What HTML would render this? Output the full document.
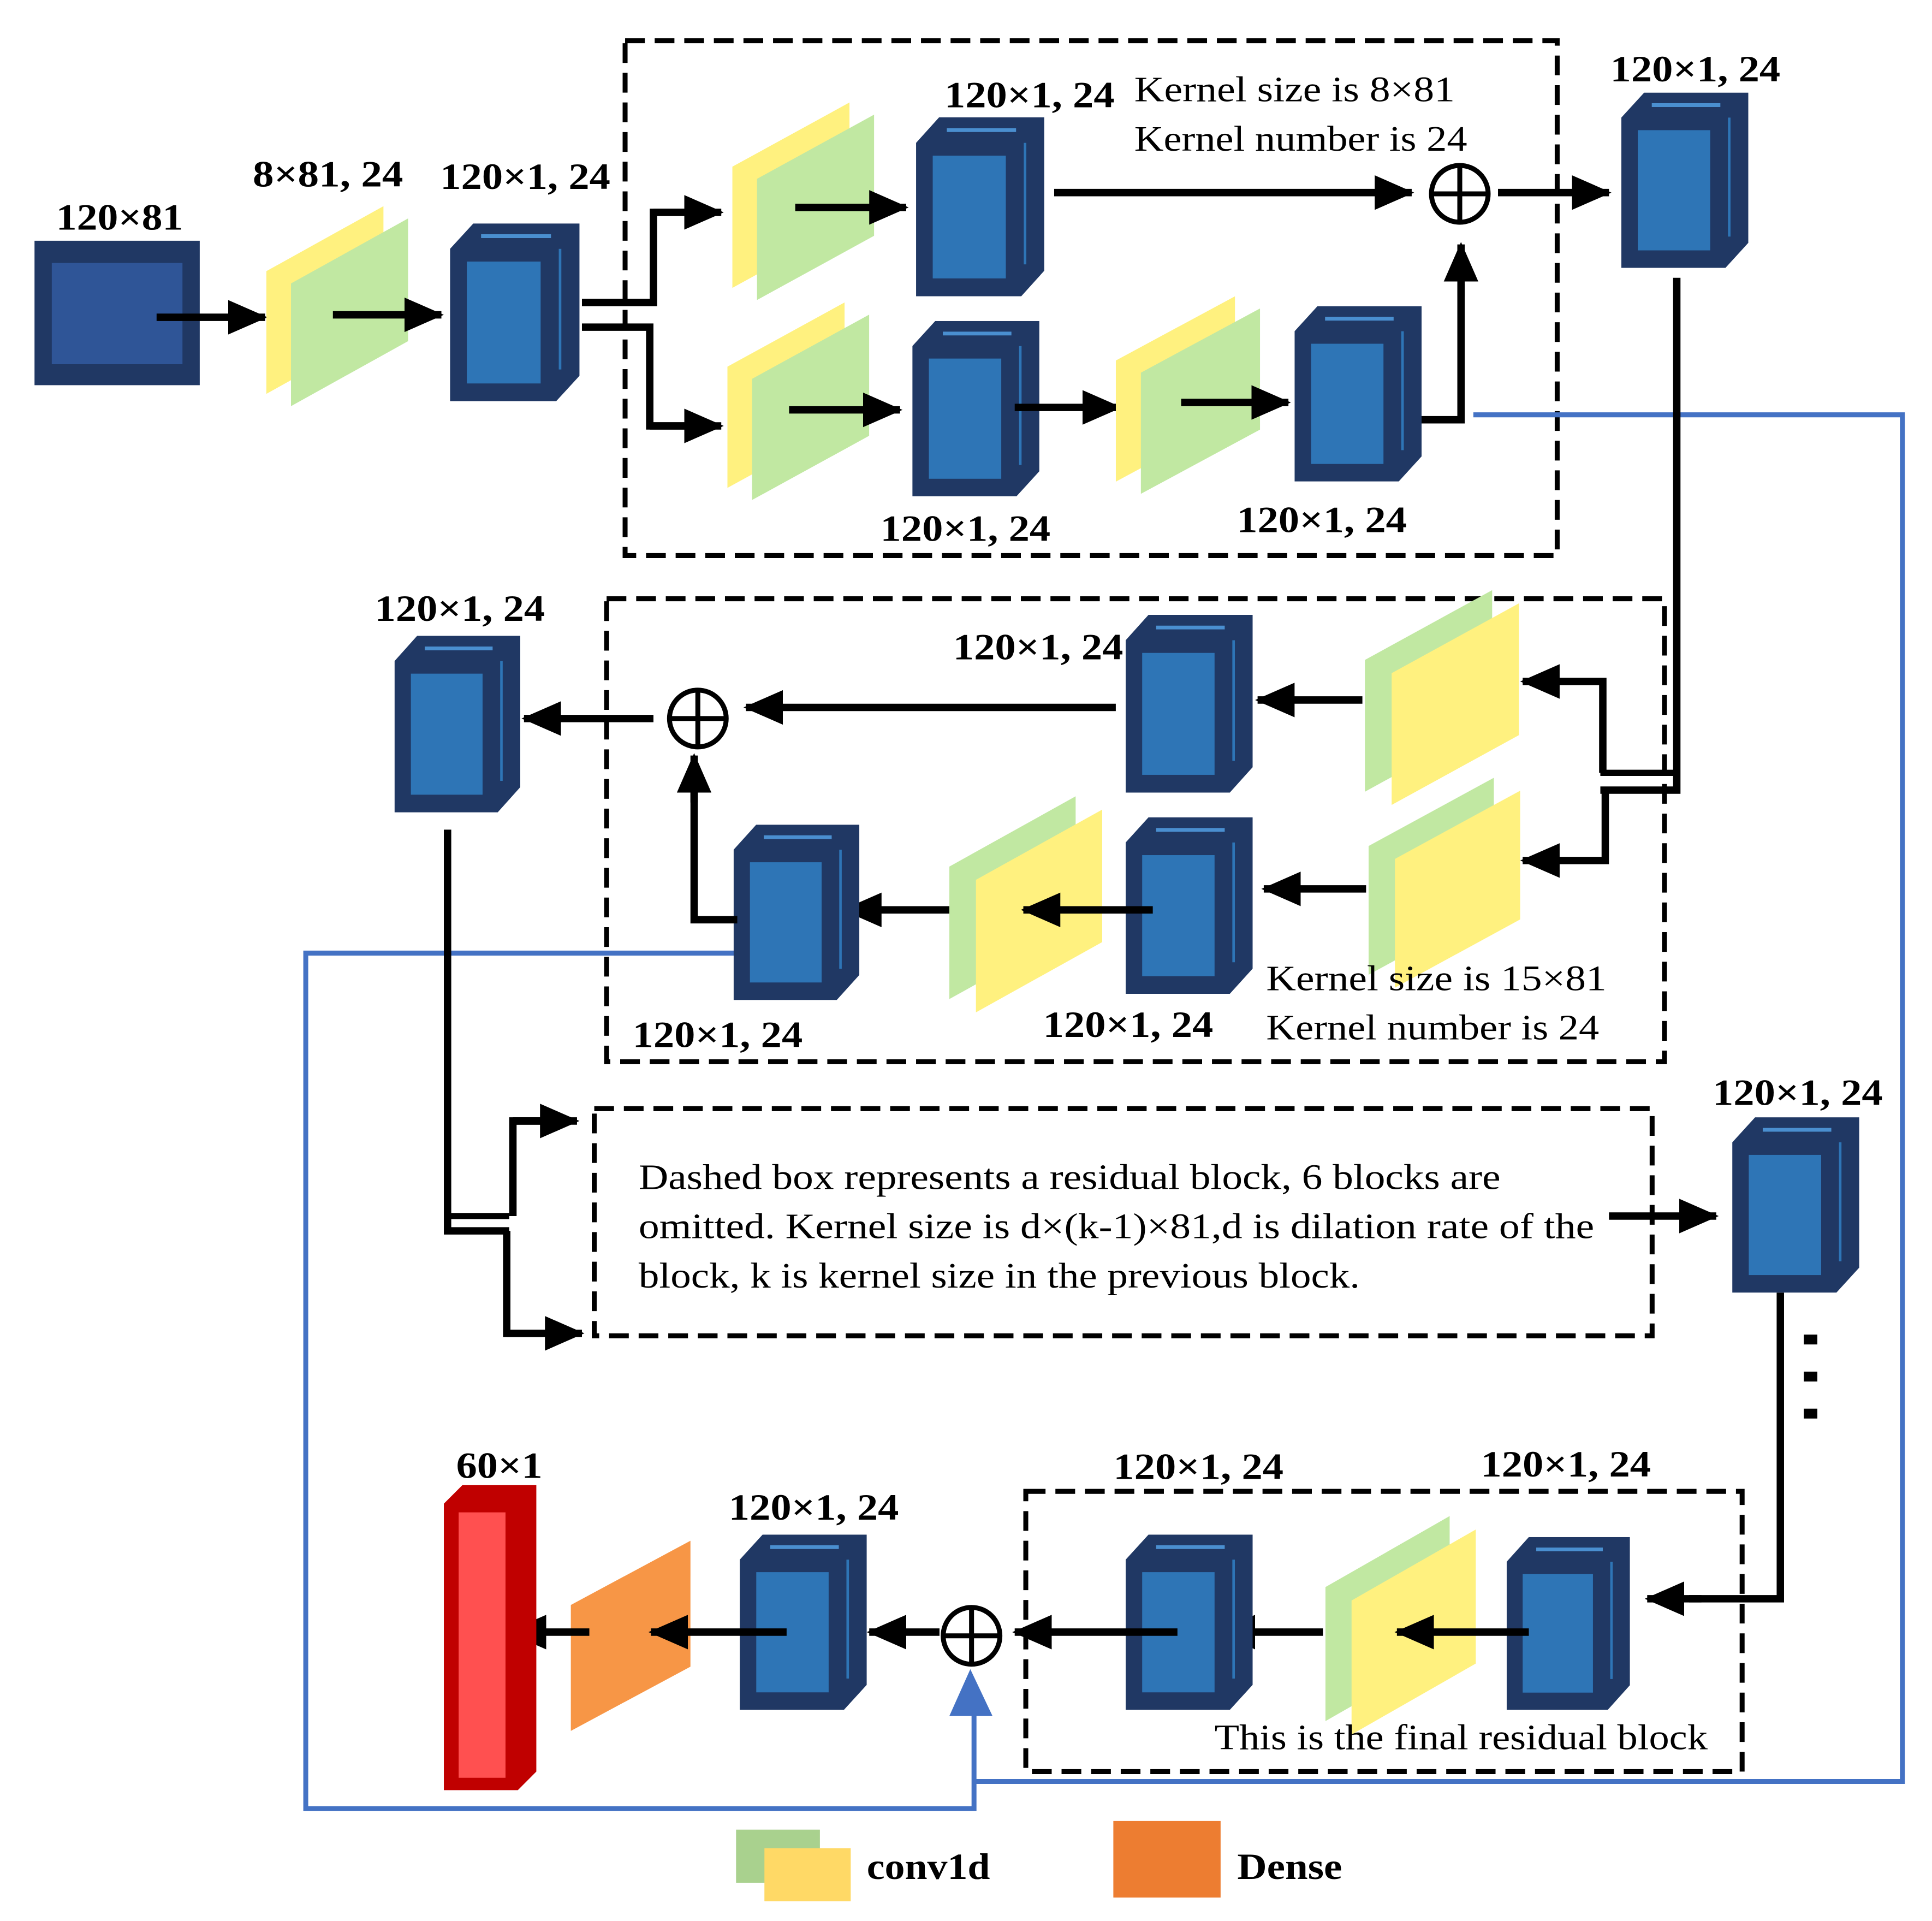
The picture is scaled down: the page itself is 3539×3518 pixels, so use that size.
<!DOCTYPE html>
<html><head><meta charset="utf-8"><style>
html,body{margin:0;padding:0;background:#fff}
svg{display:block}
.l{font-family:"Liberation Serif",serif;font-weight:bold;font-size:30px;fill:#000;text-anchor:middle}
.t{font-family:"Liberation Serif",serif;font-size:29px;fill:#000}
.a{stroke:#000;stroke-width:6;fill:none;marker-end:url(#ah)}
.k{stroke:#000;stroke-width:6;fill:none}
.d{stroke:#000;stroke-width:4;fill:none;stroke-dasharray:16 8}
.b{stroke:#4472c4;stroke-width:4;fill:none}
</style></head><body>
<svg width="3539" height="3518" viewBox="0 0 1567 1556" preserveAspectRatio="none" xmlns="http://www.w3.org/2000/svg">
<defs>
<marker id="ah" markerUnits="userSpaceOnUse" markerWidth="32" markerHeight="28" refX="30" refY="14" orient="auto">
<path d="M0,0 L32,14 L0,28 Z" fill="#000"/>
</marker>
<symbol id="cube" viewBox="0 0 100 140" preserveAspectRatio="none">
<polygon points="18,0 100,0 100,120 82,140 0,140 0,20" fill="#203864"/>
<rect x="13" y="30" width="57" height="96" fill="#2e75b6"/>
<line x1="24" y1="10" x2="78" y2="10" stroke="#4a8fd0" stroke-width="3"/>
<line x1="85" y1="20" x2="85" y2="115" stroke="#2e75b6" stroke-width="2"/>
</symbol>
<symbol id="pa" viewBox="0 0 115 163" preserveAspectRatio="none">
<polygon points="0,53 95,0 95,100 0,153" fill="#fff17f"/>
<polygon points="20,63 115,10 115,110 20,163" fill="#c1e8a2"/>
</symbol>
<symbol id="pb" viewBox="0 0 115 163" preserveAspectRatio="none">
<polygon points="0,53 95,0 95,100 0,153" fill="#c1e8a2"/>
<polygon points="20,63 115,10 115,110 20,163" fill="#fff17f"/>
</symbol>
</defs>

<rect class="d" x="507" y="33" width="756" height="417"/>
<rect class="d" x="492" y="485" width="858" height="375"/>
<rect class="d" x="482" y="898" width="858" height="184"/>
<rect class="d" x="832" y="1208" width="581" height="227"/>

<polyline class="b" points="1195,336 1543,336 1543,1443 790,1443"/>
<polyline class="b" points="598,772 248,772 248,1465 790,1465 790,1378"/>
<polygon points="770,1390 787,1352 805,1390" fill="#4472c4"/>

<text class="l" x="97" y="186" textLength="103" lengthAdjust="spacingAndGlyphs">120×81</text>
<rect x="28" y="195" width="134" height="117" fill="#203864"/>
<rect x="42" y="213" width="106" height="82" fill="#2f5597"/>
<line class="a" x1="127" y1="257" x2="215" y2="257"/>
<use href="#pa" x="216" y="167" width="115" height="162"/>
<text class="l" x="266" y="151" textLength="122" lengthAdjust="spacingAndGlyphs">8×81, 24</text>
<line class="a" x1="270" y1="255" x2="358" y2="255"/>
<use href="#cube" x="365" y="181" width="105" height="144"/>
<text class="l" x="426" y="153" textLength="138" lengthAdjust="spacingAndGlyphs">120×1, 24</text>
<polyline class="k" points="472,245 530,245 530,172 555,172"/>
<line class="a" x1="530" y1="172" x2="585" y2="172"/>
<polyline class="k" points="472,265 527,265 527,345 555,345"/>
<line class="a" x1="527" y1="345" x2="585" y2="345"/>

<use href="#pa" x="594" y="83" width="115" height="160"/>
<line class="a" x1="645" y1="168" x2="735" y2="168"/>
<use href="#cube" x="743" y="95" width="104" height="145"/>
<text class="l" x="835" y="87" textLength="138" lengthAdjust="spacingAndGlyphs">120×1, 24</text>
<line class="a" x1="855" y1="156" x2="1145" y2="156"/>
<text class="t" x="920" y="82" textLength="260" lengthAdjust="spacingAndGlyphs">Kernel size is 8×81</text>
<text class="t" x="920" y="122" textLength="270" lengthAdjust="spacingAndGlyphs">Kernel number is 24</text>
<circle cx="1184" cy="157" r="23" fill="#fff" stroke="#000" stroke-width="4"/>
<line x1="1161" y1="157" x2="1207" y2="157" stroke="#000" stroke-width="4"/>
<line x1="1184" y1="134" x2="1184" y2="180" stroke="#000" stroke-width="4"/>
<line class="a" x1="1215" y1="156" x2="1305" y2="156"/>
<use href="#cube" x="1315" y="75" width="103" height="142"/>
<text class="l" x="1375" y="66" textLength="138" lengthAdjust="spacingAndGlyphs">120×1, 24</text>

<use href="#pa" x="590" y="245" width="115" height="160"/>
<line class="a" x1="640" y1="332" x2="730" y2="332"/>
<use href="#cube" x="740" y="260" width="103" height="142"/>
<text class="l" x="783" y="438" textLength="138" lengthAdjust="spacingAndGlyphs">120×1, 24</text>
<line class="a" x1="823" y1="330" x2="908" y2="330"/>
<use href="#pa" x="905" y="240" width="117" height="160"/>
<line class="a" x1="958" y1="326" x2="1045" y2="326"/>
<use href="#cube" x="1050" y="248" width="103" height="142"/>
<text class="l" x="1072" y="431" textLength="138" lengthAdjust="spacingAndGlyphs">120×1, 24</text>
<polyline class="k" points="1153,340 1185,340 1185,230"/>
<line class="a" x1="1185" y1="240" x2="1185" y2="198"/>

<polyline class="k" points="1360,225 1360,640 1298,640"/>
<line x1="1360" y1="626" x2="1298" y2="626" stroke="#000" stroke-width="5"/>
<polyline class="k" points="1300,626 1300,552 1260,552"/>
<line class="a" x1="1262" y1="552" x2="1235" y2="552"/>
<polyline class="k" points="1302,638 1302,697 1260,697"/>
<line class="a" x1="1262" y1="697" x2="1235" y2="697"/>

<use href="#pb" x="1107" y="478" width="125" height="174"/>
<line class="a" x1="1105" y1="567" x2="1020" y2="567"/>
<use href="#cube" x="913" y="498" width="103" height="144"/>
<text class="l" x="842" y="534" textLength="138" lengthAdjust="spacingAndGlyphs">120×1, 24</text>
<line class="a" x1="905" y1="573" x2="605" y2="573"/>
<circle cx="566" cy="582" r="23" fill="#fff" stroke="#000" stroke-width="4"/>
<line x1="543" y1="582" x2="589" y2="582" stroke="#000" stroke-width="4"/>
<line x1="566" y1="559" x2="566" y2="605" stroke="#000" stroke-width="4"/>
<line class="a" x1="530" y1="582" x2="425" y2="582"/>
<use href="#cube" x="320" y="515" width="102" height="143"/>
<text class="l" x="373" y="503" textLength="138" lengthAdjust="spacingAndGlyphs">120×1, 24</text>

<use href="#pb" x="1110" y="630" width="123" height="170"/>
<line class="a" x1="1108" y1="720" x2="1025" y2="720"/>
<use href="#cube" x="913" y="662" width="103" height="143"/>
<text class="l" x="915" y="840" textLength="138" lengthAdjust="spacingAndGlyphs">120×1, 24</text>
<use href="#pb" x="770" y="645" width="124" height="175"/>
<line class="a" x1="935" y1="737" x2="830" y2="737"/>
<line class="a" x1="770" y1="737" x2="685" y2="737"/>
<use href="#cube" x="595" y="668" width="102" height="142"/>
<text class="l" x="582" y="848" textLength="138" lengthAdjust="spacingAndGlyphs">120×1, 24</text>
<polyline class="k" points="598,745 563,745 563,640"/>
<line class="a" x1="563" y1="650" x2="563" y2="612"/>
<text class="t" x="1027" y="802" textLength="276" lengthAdjust="spacingAndGlyphs">Kernel size is 15×81</text>
<text class="t" x="1027" y="842" textLength="270" lengthAdjust="spacingAndGlyphs">Kernel number is 24</text>

<polyline class="k" points="363,672 363,997 413,997"/>
<line x1="363" y1="985" x2="413" y2="985" stroke="#000" stroke-width="5"/>
<polyline class="k" points="416,985 416,908 440,908"/>
<line class="a" x1="416" y1="908" x2="468" y2="908"/>
<polyline class="k" points="411,997 411,1080 440,1080"/>
<line class="a" x1="411" y1="1080" x2="472" y2="1080"/>
<text class="t" x="518" y="963" textLength="699" lengthAdjust="spacingAndGlyphs">Dashed box represents a residual block, 6 blocks are</text>
<text class="t" x="518" y="1003" textLength="775" lengthAdjust="spacingAndGlyphs">omitted. Kernel size is d×(k-1)×81,d is dilation rate of the</text>
<text class="t" x="518" y="1043" textLength="585" lengthAdjust="spacingAndGlyphs">block, k is kernel size in the previous block.</text>
<line class="a" x1="1305" y1="985" x2="1392" y2="985"/>
<use href="#cube" x="1405" y="905" width="103" height="142"/>
<text class="l" x="1458" y="895" textLength="138" lengthAdjust="spacingAndGlyphs">120×1, 24</text>
<rect x="1463" y="1081" width="11" height="8" fill="#000"/>
<rect x="1463" y="1111" width="11" height="8" fill="#000"/>
<rect x="1463" y="1141" width="11" height="8" fill="#000"/>
<polyline class="k" points="1444,1047 1444,1295 1370,1295"/>
<line class="a" x1="1380" y1="1295" x2="1336" y2="1295"/>

<use href="#cube" x="1222" y="1245" width="100" height="140"/>
<text class="l" x="1270" y="1196" textLength="138" lengthAdjust="spacingAndGlyphs">120×1, 24</text>
<use href="#pb" x="1075" y="1228" width="122" height="177"/>
<line class="a" x1="1240" y1="1322" x2="1133" y2="1322"/>
<line class="a" x1="1073" y1="1322" x2="988" y2="1322"/>
<use href="#cube" x="913" y="1243" width="103" height="142"/>
<text class="l" x="972" y="1198" textLength="138" lengthAdjust="spacingAndGlyphs">120×1, 24</text>
<line class="a" x1="955" y1="1322" x2="823" y2="1322"/>
<text class="t" x="985" y="1417" textLength="400" lengthAdjust="spacingAndGlyphs">This is the final residual block</text>
<circle cx="788" cy="1325" r="23" fill="#fff" stroke="#000" stroke-width="4"/>
<line x1="765" y1="1325" x2="811" y2="1325" stroke="#000" stroke-width="4"/>
<line x1="788" y1="1302" x2="788" y2="1348" stroke="#000" stroke-width="4"/>
<line class="a" x1="762" y1="1322" x2="705" y2="1322"/>
<use href="#cube" x="600" y="1243" width="103" height="142"/>
<text class="l" x="660" y="1231" textLength="138" lengthAdjust="spacingAndGlyphs">120×1, 24</text>
<polygon points="463,1300 560,1248 560,1350 463,1402" fill="#f79646"/>
<line class="a" x1="638" y1="1322" x2="528" y2="1322"/>
<line class="a" x1="478" y1="1322" x2="413" y2="1322"/>
<polygon points="360,1218 375,1203 435,1203 435,1435 420,1450 360,1450" fill="#c00000"/>
<rect x="372" y="1225" width="38" height="215" fill="#ff5050"/>
<text class="l" x="405" y="1197" textLength="70" lengthAdjust="spacingAndGlyphs">60×1</text>

<rect x="597" y="1482" width="68" height="43" fill="#a9d18e"/>
<rect x="620" y="1497" width="70" height="43" fill="#ffd966"/>
<text class="l" x="753" y="1522" textLength="100" lengthAdjust="spacingAndGlyphs">conv1d</text>
<rect x="903" y="1475" width="87" height="62" fill="#ed7d31"/>
<text class="l" x="1046" y="1522" textLength="85" lengthAdjust="spacingAndGlyphs">Dense</text>
</svg>
</body></html>
